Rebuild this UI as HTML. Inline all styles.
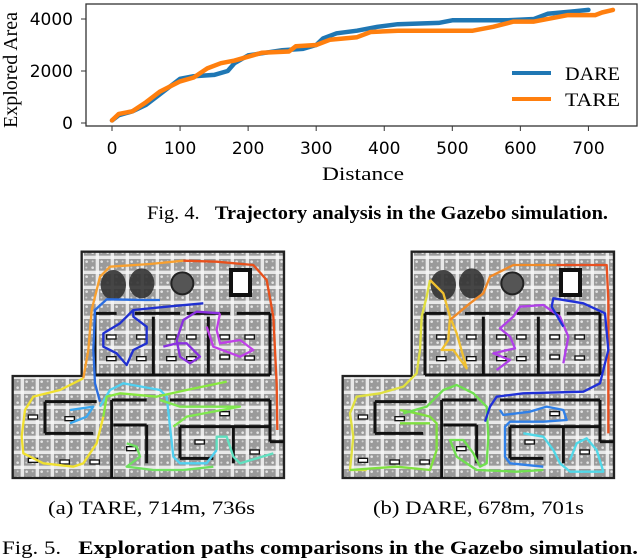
<!DOCTYPE html>
<html><head><meta charset="utf-8"><style>
html,body{margin:0;padding:0;background:#fff;}
body{width:640px;height:560px;overflow:hidden;position:relative;}
svg{position:absolute;left:0;top:0;}
</style></head><body>
<svg width="640" height="560" viewBox="0 0 640 560" xmlns="http://www.w3.org/2000/svg">
<defs>
<pattern id="noise" width="45" height="45" patternUnits="userSpaceOnUse">
<rect width="45" height="45" fill="#9a9a9a"/>
<rect x="0" y="17" width="45" height="10" fill="#f6f6f6" opacity="0.85"/>
<rect x="17" y="0" width="10" height="45" fill="#f6f6f6" opacity="0.85"/>
<circle cx="8" cy="8" r="4" fill="#e4e4e4"/><circle cx="35" cy="35" r="4" fill="#e4e4e4"/>
<circle cx="34" cy="8" r="3" fill="#d0d0d0"/><circle cx="8" cy="34" r="3" fill="#d0d0d0"/>
</pattern>
</defs>
<g id="chart"></g>
<text x="147" y="219" textLength="461" lengthAdjust="spacingAndGlyphs" font-family="Liberation Serif, serif" font-size="19">Fig. 4. &#160;&#160;<tspan font-weight="bold">Trajectory analysis in the Gazebo simulation.</tspan></text>
<g id="mapA" transform="translate(0,250) scale(0.33333)"></g>
<g id="mapB" transform="translate(330,250) scale(0.33333)"></g>
<text x="48" y="514" textLength="207" lengthAdjust="spacingAndGlyphs" font-family="Liberation Serif, serif" font-size="19">(a) TARE, 714m, 736s</text>
<text x="373" y="514" textLength="211" lengthAdjust="spacingAndGlyphs" font-family="Liberation Serif, serif" font-size="19">(b) DARE, 678m, 701s</text>
<text x="2" y="554" textLength="636" lengthAdjust="spacingAndGlyphs" font-family="Liberation Serif, serif" font-size="19">Fig. 5. &#160;&#160;<tspan font-weight="bold">Exploration paths comparisons in the Gazebo simulation.</tspan></text>
</svg>
<script>
const dareX=[0,10,30,50,70,90,100,120,150,170,180,200,250,280,300,310,330,360,390,420,480,500,580,620,640,680,700];
const dareY=[100,300,450,700,1100,1500,1700,1800,1850,2000,2300,2600,2800,2850,3000,3250,3450,3550,3700,3800,3850,3950,3950,4000,4200,4300,4350];
const tareX=[0,10,30,50,70,100,120,140,160,180,200,220,260,270,300,320,360,380,420,530,560,590,620,650,670,710,720,736];
const tareY=[100,350,450,800,1200,1600,1750,2100,2300,2400,2550,2700,2750,2950,3000,3200,3300,3500,3550,3550,3700,3900,3900,4050,4150,4150,4250,4350];
const xTicks=[0,100,200,300,400,500,600,700];
const yTicks=[0,2000,4000];
const NS='http://www.w3.org/2000/svg';
function mk(tag,attrs,parent){const e=document.createElementNS(NS,tag);for(const k in attrs)e.setAttribute(k,attrs[k]);parent.appendChild(e);return e;}
const sx=v=>112+v*0.6806, sy=v=>123-v*0.026;
const ch=document.getElementById('chart');
const box=mk('rect',{x:86,y:4,width:551,height:122,fill:'none',stroke:'#333','stroke-width':1.3},ch);


xTicks.forEach(t=>{
 const l=mk('line',{x1:sx(t),x2:sx(t),y1:126,y2:131,stroke:'#333'},ch);
 
 
 const tx=mk('text',{x:sx(t),y:154,'text-anchor':'middle','font-family':'DejaVu Sans, sans-serif','font-size':17},ch);
 tx.textContent=t;
 
 
});
yTicks.forEach(t=>{
 const l=mk('line',{x1:81,x2:86,y1:sy(t),y2:sy(t),stroke:'#333'},ch);
 
 
 const tx=mk('text',{x:73,y:sy(t)+6,'text-anchor':'end','font-family':'DejaVu Sans, sans-serif','font-size':17},ch);
 tx.textContent=t;
 
 
});
const xl=mk('text',{x:322,y:180,textLength:82,lengthAdjust:'spacingAndGlyphs','font-family':'Liberation Serif, serif','font-size':19},ch);
xl.textContent='Distance';


const yl=mk('text',{x:0,y:0,transform:'translate(17,128) rotate(-90)','font-family':'Liberation Serif, serif','font-size':20},ch);
yl.textContent='Explored Area';


function series(xs,ys,color,name){
 const p=xs.map((x,i)=>sx(x)+','+sy(ys[i])).join(' ');
 const l=mk('polyline',{points:p,fill:'none',stroke:color,'stroke-width':4.5,'stroke-linejoin':'round','stroke-linecap':'round'},ch);
 
 
}
series(dareX,dareY,'#1f77b4','dare-line');
series(tareX,tareY,'#ff7f0e','tare-line');
[['DARE','#1f77b4',73],['TARE','#ff7f0e',99]].forEach(([n,c,y])=>{
 const l=mk('line',{x1:512,x2:551,y1:y,y2:y,stroke:c,'stroke-width':4},ch);
 
 
 const t=mk('text',{x:565,y:y+7,textLength:55,lengthAdjust:'spacingAndGlyphs','font-family':'Liberation Serif, serif','font-size':19},ch);
 t.textContent=n;
 
 
});
function drawMap(g,paths){
 const sh=mk('polygon',{points:'245,5 852,5 852,684 38,684 38,378 245,378',fill:'url(#noise)',stroke:'#222','stroke-width':7},g);
 
 
 const walls=[[285,190,350,190],[405,190,540,190],[560,190,690,190],[710,190,810,190],[285,190,285,375],[285,375,810,375],[810,190,810,375],[460,200,460,375],[625,200,625,375],
 [135,455,290,455],[135,455,135,550],[135,550,280,550],[335,450,440,450],[335,450,335,684],[510,450,810,450],[340,525,440,525],[440,525,440,640],[540,530,810,530],[540,530,540,625],[540,625,640,625],[700,530,700,640],[810,450,810,575],[810,575,852,575]];
 walls.forEach(w=>{const l=mk('line',{x1:w[0],y1:w[1],x2:w[2],y2:w[3],stroke:'#111','stroke-width':9},g);});
 [[320,255],[410,255],[320,320],[410,320],[500,255],[560,255],[500,320],[560,320],[660,255],[735,255],[660,315],[735,318],[85,495],[195,500],[85,625],[180,630],[270,630],[380,590],[585,570],[660,485],[750,600]].forEach(d=>{const r=mk('rect',{x:d[0],y:d[1],width:28,height:12,fill:'#fff',stroke:'#111','stroke-width':4},g);});
 [[340,105],[425,100]].forEach(c=>{const e=mk('ellipse',{cx:c[0],cy:c[1],rx:38,ry:45,fill:'#333',opacity:0.9},g);});
 const f=mk('circle',{cx:547,cy:100,r:33,fill:'#555',stroke:'#222','stroke-width':6},g);
 const b=mk('rect',{x:693,y:60,width:57,height:75,fill:'#fff',stroke:'#111','stroke-width':12},g);
 paths.forEach(([c,pts])=>{const l=mk('polyline',{points:pts.map(p=>p.join(',')).join(' '),fill:'none',stroke:c,'stroke-width':7,'stroke-linejoin':'round'},g);});
}
drawMap(document.getElementById('mapA'),[
 ['#f0e030',[[250,385],[180,420],[100,440],[75,480],[65,560],[70,610],[130,640],[220,650],[250,640],[290,580],[310,500]]],
 ['#f7a030',[[250,385],[265,300],[275,180],[300,80],[330,50],[450,42],[550,32]]],
 ['#e8501c',[[550,32],[650,35],[760,45],[800,90],[820,200],[830,400],[832,540]]],
 ['#2a6de0',[[300,455],[285,400],[280,300],[285,180],[320,148],[430,150],[480,150]]],
 ['#2030d0',[[400,180],[360,220],[310,250],[310,290],[350,310],[380,345],[400,300],[440,280],[440,230],[400,200],[400,180],[500,170],[610,160]]],
 ['#8a30e0',[[490,290],[530,280],[560,280],[600,320],[570,340],[540,320],[530,270],[550,210],[590,185],[660,190]]],
 ['#c040e8',[[660,190],[650,240],[660,280],[720,270],[760,300],[720,320],[640,290],[620,230]]],
 ['#3aa8f0',[[210,520],[260,500],[280,470],[210,480]]],
 ['#50d0f0',[[300,470],[330,420],[370,400],[480,420],[500,440],[510,530],[520,620],[540,640],[620,640],[650,600]]],
 ['#60e0c0',[[650,600],[650,560],[680,560],[700,620],[720,640],[820,610]]],
 ['#88e840',[[310,500],[320,440],[360,430],[470,440],[560,420],[680,395]]],
 ['#80e850',[[480,450],[540,470],[720,470],[560,500],[520,530]]],
 ['#70e060',[[380,580],[410,590],[420,620],[380,650],[460,660],[550,660],[640,650]]]
]);
drawMap(document.getElementById('mapB'),[
 ['#e0e040',[[300,90],[290,140],[275,200],[270,300],[260,370],[220,410],[150,430],[80,440],[60,490],[70,560],[60,660],[110,660]]],
 ['#f0c030',[[300,90],[340,130],[360,200],[355,270],[335,300],[370,300],[410,355],[380,250],[360,200]]],
 ['#f08a28',[[360,210],[420,160],[460,130],[480,80],[550,45],[680,45]]],
 ['#e85020',[[680,45],[830,45],[835,150],[835,550]]],
 ['#80e040',[[60,660],[200,650],[300,660],[320,600],[320,520],[300,500],[260,490],[210,480]]],
 ['#80e040',[[210,520],[300,520]]],
 ['#70e050',[[220,490],[290,470],[340,420],[380,405],[430,430],[470,470],[475,560],[470,640],[450,650],[430,610],[400,570],[360,570],[380,620],[440,660],[560,665],[640,660]]],
 ['#b040e8',[[500,360],[540,330],[490,310],[555,295],[540,260],[510,235],[550,200],[570,170],[640,165],[690,200],[715,260],[700,340]]],
 ['#2030d8',[[465,515],[480,470],[500,440],[580,430],[760,425],[810,400],[835,300],[825,190],[760,160],[670,145],[665,170],[700,230]]],
 ['#3080e8',[[510,480],[520,495],[600,485],[650,470],[700,480],[710,510],[640,515],[540,515],[525,530],[525,620],[540,640],[640,650]]],
 ['#50d8e8',[[580,550],[640,560],[670,600],[690,640],[720,665],[820,665],[800,600],[770,565],[740,580],[720,630]]]
]);
</script>
</body></html>
